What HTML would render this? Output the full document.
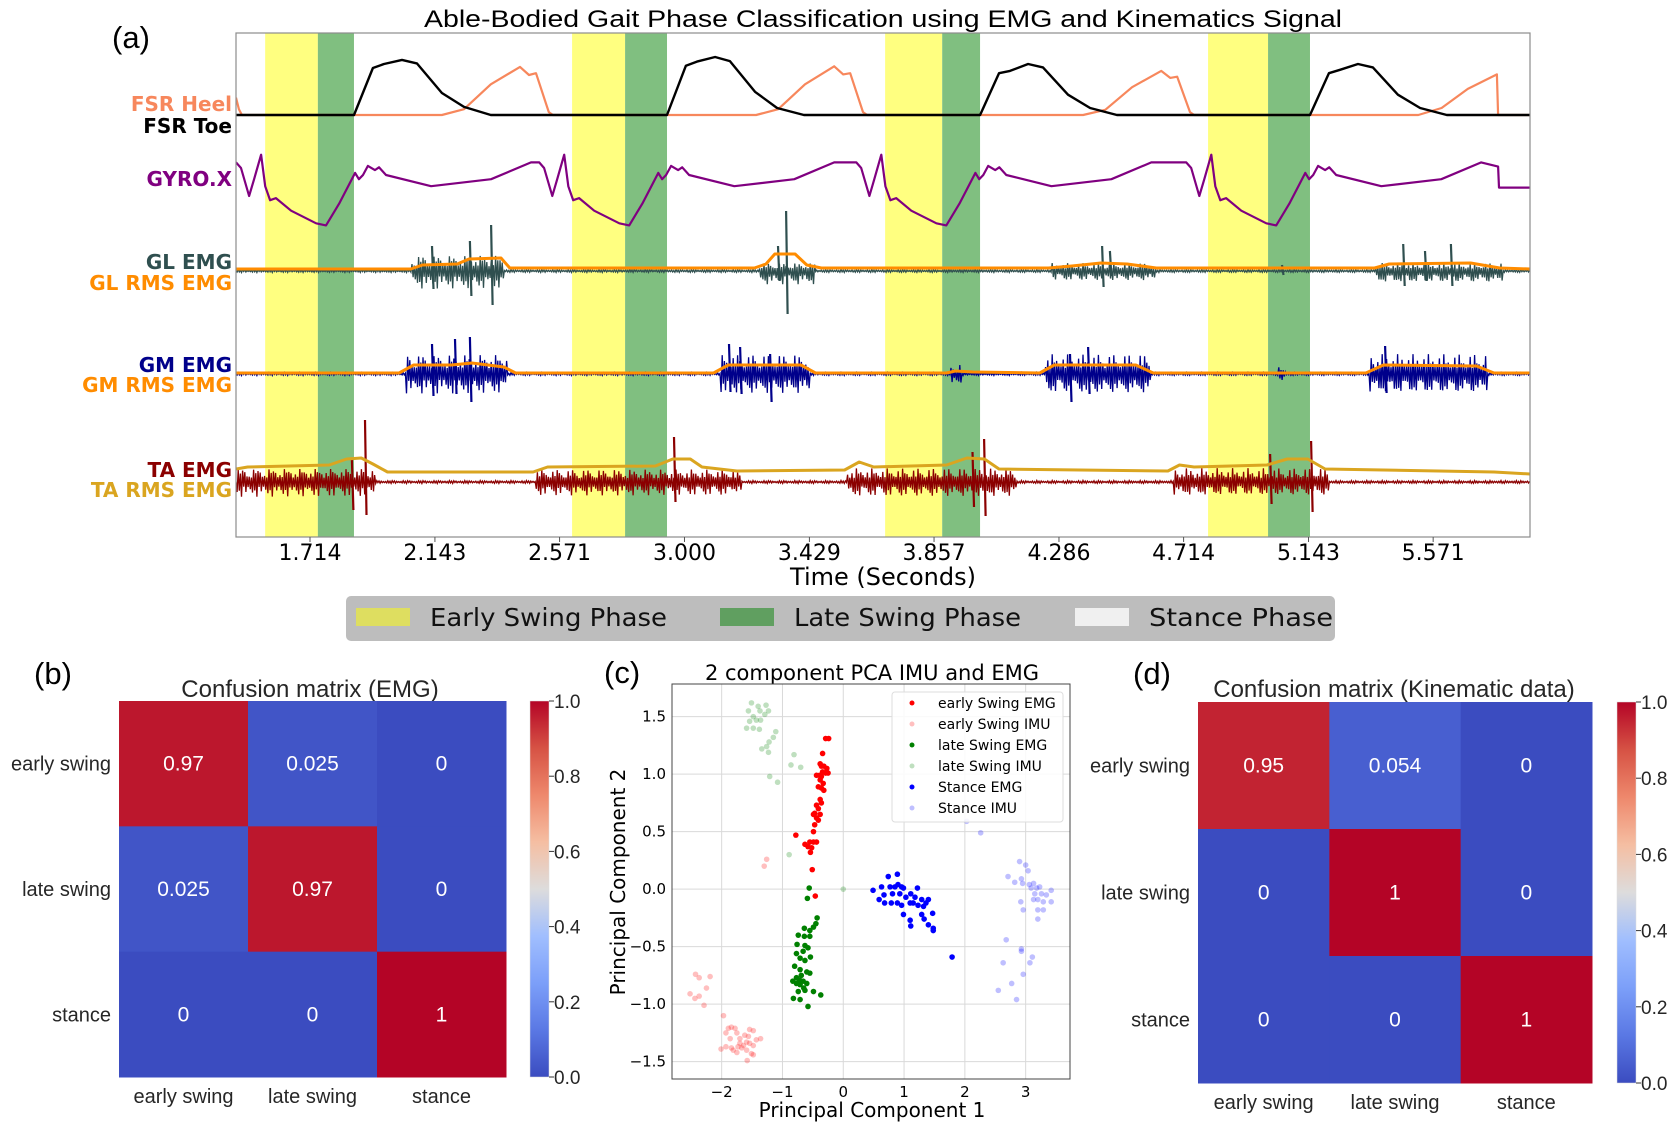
<!DOCTYPE html>
<html><head><meta charset="utf-8"><style>
html,body{margin:0;padding:0;background:#fff;}
svg{display:block;}
</style></head><body>
<svg id="fig" width="1674" height="1126" viewBox="0 0 1674 1126" xmlns="http://www.w3.org/2000/svg">
<g id="gA"></g>
<g id="gB"></g>
<g id="gC"></g>
<g id="gD"></g>
</svg>
<script>
// ---------- Panel (a) data ----------
const phaseYellowStart = [1.560, 2.614, 3.689, 4.798];
const phaseGreenStart  = [1.741, 2.796, 3.885, 5.004];
const phaseGreenEnd    = [1.865, 2.940, 4.015, 5.148];
const timeTicks = [1.714, 2.143, 2.571, 3.000, 3.429, 3.857, 4.286, 4.714, 5.143, 5.571];
const timeTickLabels = ["1.714","2.143","2.571","3.000","3.429","3.857","4.286","4.714","5.143","5.571"];
const toeT = [1.460,1.865,1.930,1.968,2.030,2.081,2.167,2.243,2.335,2.940,3.005,3.043,3.105,3.156,3.242,3.318,3.410,4.015,4.080,4.118,4.180,4.231,4.317,4.393,4.485,5.148,5.213,5.251,5.313,5.364,5.450,5.526,5.618,5.904];
const toeV = [0,0,.81,.88,.95,.89,.38,.14,0,0,.85,.92,1.0,.93,.40,.12,0,0,.72,.76,.88,.82,.35,.12,0,0,.72,.78,.88,.82,.35,.12,0,0];
const heelT = [1.460,1.470,1.480,2.167,2.243,2.335,2.435,2.466,2.490,2.534,2.548,3.246,3.322,3.414,3.514,3.545,3.569,3.613,3.627,4.369,4.445,4.537,4.637,4.668,4.692,4.736,4.750,5.520,5.600,5.690,5.790,5.794,5.904];
const heelV = [.30,.10,0,0,.1,.53,.83,.69,.72,.05,0,0,.1,.53,.84,.70,.72,.05,0,0,.09,.48,.76,.64,.66,.05,0,0,.12,.45,.70,0,0];
const gyroMinT = [1.769, 2.810, 3.899, 5.032];
const gyroOffT = [-.309,-.292,-.264,-.247,-.223,-.209,-.192,-.172,-.120,-.034,0,.045,.100,.113,.127,.144,.168,.182,.206,.361,.567,.704];
const gyroOffV = [.88,.80,.40,.64,.99,.54,.34,.37,.19,.01,-.02,.29,.73,.64,.70,.83,.77,.81,.70,.54,.64,.88];
const gyroTailT = [5.794, 5.797, 5.904];
const gyroTailV = [.82, .52, .52];
// EMG bursts
const glBurstStart = [2.061, 3.256, 4.259, 5.371];
const glBurstEnd   = [2.380, 3.448, 4.616, 5.811];
const glBurstUp    = [16, 8, 8, 8];
const glBurstDown  = [18, 14, 10, 12];
const glSpikeT   = [2.133, 2.263, 2.336, 3.321, 3.349, 4.434, 4.461, 5.468, 5.543, 5.632, 5.052];
const glSpikeUp  = [25, 30, 46, 25, 60, 25, 20, 27, 20, 27, 6];
const glSpikeDn  = [18, 25, 34, 10, 43, 16, 5, 15, 10, 15, 4];
const glRmsT = [1.46,2.06,2.10,2.22,2.26,2.37,2.40,3.24,3.28,3.31,3.38,3.42,3.47,4.25,4.33,4.43,4.52,4.62,5.37,5.42,5.70,5.80,5.904];
const glRmsV = [1,1,5,6,11,12,2,2,6,16,16,5,2,2,4,7,6,2,2,6,7,2,1];
const gmBurstStart = [2.044, 3.122, 4.238, 5.354, 3.915, 5.040];
const gmBurstEnd   = [2.391, 3.431, 4.599, 5.756, 3.950, 5.065];
const gmBurstUp    = [20, 20, 20, 20, 10, 7];
const gmBurstDown  = [20, 20, 20, 20, 12, 8];
const gmSpikeT  = [2.133, 2.212, 2.263, 3.153, 3.191, 3.294, 4.324, 4.386, 5.406];
const gmSpikeUp = [30, 35, 37, 30, 27, 20, 20, 27, 28];
const gmSpikeDn = [22, 20, 28, 18, 20, 28, 28, 20, 19];
const gmRmsT = [1.46,2.02,2.07,2.20,2.27,2.38,2.42,3.10,3.15,3.40,3.45,3.90,3.93,3.99,4.22,4.27,4.55,4.61,5.34,5.40,5.72,5.78,5.904];
const gmRmsV = [0,0,8,8,10,6,0,0,8,8,0,0,2,1,0,8,8,0,0,8,7,0,0];
const taBurstStart = [1.460, 2.490, 3.558, 4.681, 3.170];
const taBurstEnd   = [1.937, 3.191, 4.139, 5.213, 3.195];
const taBurstUp    = [14, 13, 14, 14, 10];
const taBurstDown  = [15, 14, 15, 14, 10];
const taSpikeT  = [1.858, 1.903, 2.964, 4.029, 5.011, 5.152, 3.989];
const taSpikeUp = [22, 62, 45, 43, 28, 41, 30];
const taSpikeDn = [28, 33, 20, 34, 22, 30, 25];
const taRmsT = [1.46,1.50,1.78,1.84,1.89,1.93,1.98,2.48,2.53,2.90,2.96,3.02,3.06,3.18,3.55,3.60,3.65,3.90,3.97,4.03,4.08,4.66,4.70,4.75,5.00,5.07,5.14,5.20,5.78,5.904];
const taRmsV = [8,10,12,18,19,13,5,5,10,11,18,18,10,6,7,15,10,12,19,18,8,6,12,10,12,18,18,8,5,3];

// ---------- Panel (b)/(d) data ----------
const cmLabels = ["early swing", "late swing", "stance"];
const cmEmg = [[0.97, 0.025, 0], [0.025, 0.97, 0], [0, 0, 1]];
const cmEmgText = [["0.97","0.025","0"],["0.025","0.97","0"],["0","0","1"]];
const cmKin = [[0.95, 0.054, 0], [0, 1, 0], [0, 0, 1]];
const cmKinText = [["0.95","0.054","0"],["0","1","0"],["0","0","1"]];
const cbarTicks = [0, 0.2, 0.4, 0.6, 0.8, 1.0];
const cbarTickLabels = ["0.0","0.2","0.4","0.6","0.8","1.0"];

// ---------- Panel (c) data ----------
const pcaXTicks = [-2, -1, 0, 1, 2, 3];
const pcaYTicks = [-1.5, -1.0, -0.5, 0.0, 0.5, 1.0, 1.5];
const pcaYTickLabels = ["\u22121.5","\u22121.0","\u22120.5","0.0","0.5","1.0","1.5"];
const pcaXTickLabels = ["\u22122","\u22121","0","1","2","3"];
const esEmgX = [-.24,-.29,-.34,-.38,-.36,-.32,-.27,-.34,-.39,-.29,-.25,-.44,-.36,-.38,-.33,-.41,-.36,-.32,-.38,-.36,-.44,-.41,-.47,-.38,-.49,-.44,-.41,-.47,-.49,-.78,-.63,-.55,-.49,-.44,-.58,-.52,-.54,-.51,-.46];
const esEmgY = [1.31,1.31,1.18,1.09,1.07,1.07,1.05,1.02,.99,1.01,1.01,.99,.98,.95,.92,.89,.88,.86,.78,.75,.73,.70,.66,.65,.65,.62,.60,.56,.50,.47,.39,.41,.41,.41,.37,.36,.32,.17,-.06];
const esImuX = [-2.43,-2.37,-2.19,-2.25,-2.52,-2.44,-2.37,-2.29,-1.97,-1.26,-1.30,-1.89,-1.84,-1.78,-1.93,-1.75,-1.86,-1.70,-1.62,-1.54,-1.48,-1.36,-1.56,-1.70,-1.64,-1.59,-1.54,-1.48,-1.73,-1.67,-1.81,-1.59,-1.51,-1.48,-1.93,-2.01,-1.58,-1.43,-1.84,-1.75];
const esImuY = [-.74,-.77,-.76,-.86,-.91,-.95,-.93,-1.01,-1.10,.26,.20,-1.21,-1.20,-1.21,-1.25,-1.25,-1.30,-1.30,-1.27,-1.22,-1.23,-1.30,-1.28,-1.34,-1.36,-1.33,-1.34,-1.36,-1.37,-1.38,-1.40,-1.40,-1.43,-1.44,-1.37,-1.39,-1.49,-1.31,-1.38,-1.42];
const lsEmgX = [-.56,-.59,-.43,-.45,-.49,-.55,-.64,-.74,-.64,-.55,-.76,-.63,-.58,-.66,-.77,-.54,-.71,-.63,-.80,-.71,-.60,-.55,-.69,-.77,-.72,-.66,-.83,-.77,-.71,-.60,-.74,-.63,-.49,-.37,-.82,-.71,-.58,-.65];
const lsEmgY = [.01,-.08,-.25,-.30,-.33,-.36,-.34,-.40,-.41,-.41,-.48,-.49,-.51,-.54,-.56,-.59,-.60,-.62,-.67,-.70,-.72,-.73,-.75,-.77,-.79,-.80,-.80,-.82,-.83,-.82,-.89,-.88,-.89,-.92,-.95,-.96,-1.02,-.86];
const lsImuX = [-1.51,-1.40,-1.27,-1.56,-1.48,-1.37,-1.29,-1.23,-1.43,-1.54,-1.59,-1.48,-1.38,-1.11,-1.15,-1.22,-1.34,-1.26,-1.23,-1.36,-.81,-.86,-.70,-1.21,-1.08,-.89,0.00];
const lsImuY = [1.62,1.59,1.60,1.55,1.50,1.55,1.52,1.55,1.47,1.46,1.40,1.40,1.39,1.37,1.32,1.28,1.22,1.24,1.19,1.47,1.17,1.08,1.06,.98,.93,.30,0.00];
const stEmgX = [.49,.59,.63,.67,.74,.77,.81,.85,.89,.90,.93,.96,.89,.96,1.03,1.11,1.18,1.22,1.10,1.15,1.23,1.29,1.36,1.40,1.32,.99,1.10,1.11,1.29,1.33,1.47,1.40,1.48,1.48,.68,.79,1.79,.99];
const stEmgY = [-.01,-.09,.02,-.05,.11,.02,-.04,.02,.13,.04,-.04,.02,-.12,-.14,-.07,-.04,-.07,.01,-.12,-.12,-.14,-.09,-.12,-.09,-.15,-.22,-.27,-.32,-.22,-.26,-.21,-.31,-.34,-.36,-.12,-.12,-.59,.01];
const stImuX = [2.71,2.90,3.00,3.04,2.93,2.82,2.95,3.06,3.13,3.18,3.23,3.09,3.15,3.26,3.34,3.42,3.13,3.20,3.29,3.42,2.92,2.96,3.20,3.29,3.20,2.68,2.93,2.93,3.11,3.07,2.63,2.96,2.77,2.55,2.85,2.03,2.26];
const stImuY = [.11,.24,.21,.16,.09,.06,.05,.04,.05,.01,.02,.01,-.04,-.04,-.05,-.01,-.09,-.09,-.11,-.11,-.11,-.18,-.18,-.18,-.26,-.44,-.52,-.54,-.59,-.64,-.64,-.74,-.82,-.88,-.96,.59,.49];
const pcaSeriesNames = ["early Swing EMG","early Swing IMU","late Swing EMG","late Swing IMU","Stance EMG","Stance IMU"];

// ---------- helpers ----------
const NS = "http://www.w3.org/2000/svg";
function mk(parent, tag, attrs, text) {
  const e = document.createElementNS(NS, tag);
  for (const k in attrs) e.setAttribute(k, attrs[k]);
  if (text !== undefined) e.textContent = text;
  parent.appendChild(e);
  return e;
}
const DJ = "'DejaVu Sans', 'Liberation Sans', sans-serif";
const LS = "'Liberation Sans', Arial, sans-serif";

// ---------- Panel (a) ----------
const gA = document.getElementById("gA");
const AX0 = 236, AX1 = 1530, AY0 = 33, AY1 = 537;
const tx = t => 310 + (t - 1.714) * 291.2;
const fsrY = v => 115 - v * 58;
const gyroY = v => 224 - v * 70;

let e;
e = mk(gA, "text", {x: 112, y: 48, "font-family": LS, "font-size": 31, fill: "#000"}, "(a)");


e = mk(gA, "text", {x: 424, y: 27, "font-family": LS, "font-size": 24, fill: "#000", textLength: 918, lengthAdjust: "spacingAndGlyphs"}, "Able-Bodied Gait Phase Classification using EMG and Kinematics Signal");



const defs = mk(gA, "defs", {});
const cp = mk(defs, "clipPath", {id: "clipA"});
mk(cp, "rect", {x: AX0, y: AY0, width: AX1 - AX0, height: AY1 - AY0});
const plotA = mk(gA, "g", {"clip-path": "url(#clipA)"});



for (let i = 0; i < phaseYellowStart.length; i++) {
  e = mk(plotA, "rect", {x: tx(phaseYellowStart[i]), y: AY0, width: tx(phaseGreenStart[i]) - tx(phaseYellowStart[i]), height: AY1 - AY0, fill: "#ffff80"});
  
  
  e = mk(plotA, "rect", {x: tx(phaseGreenStart[i]), y: AY0, width: tx(phaseGreenEnd[i]) - tx(phaseGreenStart[i]), height: AY1 - AY0, fill: "#80bf80"});
  
  
}

function pts(T, V, fy) { return T.map((t, i) => tx(t).toFixed(1) + "," + fy(V[i]).toFixed(1)).join(" "); }

e = mk(plotA, "polyline", {points: pts(heelT, heelV, fsrY), fill: "none", stroke: "#f7875c", "stroke-width": 2.2, "stroke-linejoin": "round"});


e = mk(plotA, "polyline", {points: pts(toeT, toeV, fsrY), fill: "none", stroke: "#000", "stroke-width": 2.4, "stroke-linejoin": "round"});



// gyro
const gT = [], gV = [];
for (let c = 0; c < gyroMinT.length; c++) {
  for (let j = 0; j < gyroOffT.length; j++) { gT.push(gyroMinT[c] + gyroOffT[j]); gV.push(gyroOffV[j]); }
}
for (let j = 0; j < gyroTailT.length; j++) { gT.push(gyroTailT[j]); gV.push(gyroTailV[j]); }
e = mk(plotA, "polyline", {points: pts(gT, gV, gyroY), fill: "none", stroke: "#800080", "stroke-width": 2.2, "stroke-linejoin": "round"});



// EMG traces
function emgPath(base, bs, be, bu, bd) {
  let d = "";
  let i = 0;
  for (let x = AX0; x <= AX1; x += 1.1, i++) {
    const t = 1.714 + (x - 310) / 291.2;
    let up = 1.5, dn = 1.5;
    for (let k = 0; k < bs.length; k++) {
      if (t >= bs[k] && t <= be[k]) { up = bu[k]; dn = bd[k]; }
    }
    const f = 0.3 + 0.7 * Math.abs(Math.sin(i * 0.9) * Math.sin(i * 0.23 + 0.5));
    const y = (i % 2 === 0) ? base - up * f : base + dn * f;
    d += (i === 0 ? "M" : "L") + x.toFixed(1) + "," + y.toFixed(1);
  }
  return d;
}
function spikePath(base, T, U, D) {
  let d = "";
  for (let k = 0; k < T.length; k++) {
    const x = tx(T[k]);
    d += "M" + x.toFixed(1) + "," + (base - U[k]).toFixed(1) + "L" + (x + 1.5).toFixed(1) + "," + (base + D[k]).toFixed(1);
  }
  return d;
}
function emg(name, base, color, bs, be, bu, bd, sT, sU, sD, rT, rV, rColor, rOff) {
  e = mk(plotA, "path", {d: emgPath(base, bs, be, bu, bd), fill: "none", stroke: color, "stroke-width": 1.3});
  
  
  e = mk(plotA, "path", {d: spikePath(base, sT, sU, sD), fill: "none", stroke: color, "stroke-width": 2.2});
  
  
  e = mk(plotA, "polyline", {points: pts(rT, rV, v => base - rOff - v), fill: "none", stroke: rColor, "stroke-width": 3, "stroke-linejoin": "round"});
  
  
}
emg("gl", 271, "#2f4f4f", glBurstStart, glBurstEnd, glBurstUp, glBurstDown, glSpikeT, glSpikeUp, glSpikeDn, glRmsT, glRmsV, "#ff8c00", 1);
emg("gm", 374, "#00008b", gmBurstStart, gmBurstEnd, gmBurstUp, gmBurstDown, gmSpikeT, gmSpikeUp, gmSpikeDn, gmRmsT, gmRmsV, "#ff8c00", 1);
emg("ta", 482, "#8b0000", taBurstStart, taBurstEnd, taBurstUp, taBurstDown, taSpikeT, taSpikeUp, taSpikeDn, taRmsT, taRmsV, "#daa520", 5);

e = mk(gA, "rect", {x: AX0, y: AY0, width: AX1 - AX0, height: AY1 - AY0, fill: "none", stroke: "#8c8c8c", "stroke-width": 1.2});



// channel labels
const chanLabels = [["FSR Heel", 111, "#f7875c"], ["FSR Toe", 133, "#000"], ["GYRO.X", 186, "#800080"], ["GL EMG", 269, "#2f4f4f"], ["GL RMS EMG", 290, "#ff8c00"], ["GM EMG", 372, "#00008b"], ["GM RMS EMG", 392, "#ff8c00"], ["TA EMG", 477, "#8b0000"], ["TA RMS EMG", 497, "#daa520"]];
chanLabels.forEach(c => {
  e = mk(gA, "text", {x: 232, y: c[1], "text-anchor": "end", "font-family": DJ, "font-size": 20, "font-weight": "bold", fill: c[2]}, c[0]);
  
  
});

// ticks
timeTicks.forEach((t, i) => {
  e = mk(gA, "line", {x1: tx(t), x2: tx(t), y1: AY1, y2: AY1 + 5, stroke: "#555", "stroke-width": 1});
  
  
  e = mk(gA, "text", {x: tx(t), y: 560, "text-anchor": "middle", "font-family": DJ, "font-size": 22, fill: "#000"}, timeTickLabels[i]);
  
  
});
e = mk(gA, "text", {x: 883, y: 585, "text-anchor": "middle", "font-family": DJ, "font-size": 24, fill: "#000"}, "Time (Seconds)");



// legend
e = mk(gA, "rect", {x: 346, y: 596, width: 989, height: 45, rx: 5, fill: "#bdbdbd"});


const legItems = [["#dede60", 356, "Early Swing Phase", 430, 237], ["#609f60", 720, "Late Swing Phase", 794, 227], ["#f0f0f0", 1075, "Stance Phase", 1149, 184]];
legItems.forEach(l => {
  e = mk(gA, "rect", {x: l[1], y: 608, width: 54, height: 18, fill: l[0]});
  
  
  e = mk(gA, "text", {x: l[3], y: 626, "font-family": DJ, "font-size": 25, fill: "#111", textLength: l[4], lengthAdjust: "spacingAndGlyphs"}, l[2]);
  
  
});

// ---------- coolwarm ----------
const cwStops = [[0,[59,76,192]],[0.125,[90,120,228]],[0.25,[124,159,249]],[0.375,[160,190,254]],[0.5,[221,220,220]],[0.625,[245,190,162]],[0.75,[238,136,108]],[0.875,[214,82,68]],[1,[180,4,38]]];
function cw(v) {
  for (let i = 0; i < cwStops.length - 1; i++) {
    const a = cwStops[i], b = cwStops[i + 1];
    if (v <= b[0]) {
      const f = (v - a[0]) / (b[0] - a[0]);
      const c = a[1].map((x, k) => Math.round(x + (b[1][k] - x) * f));
      return "rgb(" + c.join(",") + ")";
    }
  }
  return "rgb(180,4,38)";
}

function confusion(g, id, label, labelX, title, titleX, M, MT, x0, x1, y0, y1, cbx, name) {
  e = mk(g, "text", {x: labelX, y: 684, "font-family": LS, "font-size": 31, fill: "#000"}, label);
  
  
  e = mk(g, "text", {x: titleX, y: 697, "text-anchor": "middle", "font-family": LS, "font-size": 24, fill: "#262626"}, title);
  
  
  const cw3 = (x1 - x0) / 3, ch3 = (y1 - y0) / 3;
  for (let r = 0; r < 3; r++) {
    for (let c = 0; c < 3; c++) {
      e = mk(g, "rect", {x: x0 + c * cw3, y: y0 + r * ch3, width: cw3 + 0.5, height: ch3 + 0.5, fill: cw(M[r][c])});
      
      
      e = mk(g, "text", {x: x0 + (c + 0.5) * cw3, y: y0 + (r + 0.5) * ch3 + 7, "text-anchor": "middle", "font-family": LS, "font-size": 21, fill: "#fff"}, MT[r][c]);
      
      
    }
    e = mk(g, "text", {x: x0 - 8, y: y0 + (r + 0.5) * ch3 + 7, "text-anchor": "end", "font-family": LS, "font-size": 20, fill: "#262626"}, cmLabels[r]);
    
    
    e = mk(g, "text", {x: x0 + (r + 0.5) * cw3, y: y1 + 26, "text-anchor": "middle", "font-family": LS, "font-size": 20, fill: "#262626"}, cmLabels[r]);
    
    
  }
  const gr = mk(defs, "linearGradient", {id: "grad" + id, x1: 0, y1: 1, x2: 0, y2: 0});
  cwStops.forEach(s => mk(gr, "stop", {offset: s[0], "stop-color": cw(s[0])}));
  e = mk(g, "rect", {x: cbx, y: y0, width: 19, height: y1 - y0, fill: "url(#grad" + id + ")", stroke: "#ddd", "stroke-width": 0.5});
  
  
  cbarTicks.forEach((v, i) => {
    const y = y1 - v * (y1 - y0);
    e = mk(g, "line", {x1: cbx + 19, x2: cbx + 24, y1: y, y2: y, stroke: "#333", "stroke-width": 1});
    
    
    e = mk(g, "text", {x: cbx + 24, y: y + 7, "font-family": LS, "font-size": 19, fill: "#262626"}, cbarTickLabels[i]);
    
    
  });
}
confusion(document.getElementById("gB"), "B", "(b)", 34, "Confusion matrix (EMG)", 310, cmEmg, cmEmgText, 119, 506, 701, 1077, 530, "cm-emg");
confusion(document.getElementById("gD"), "D", "(d)", 1133, "Confusion matrix (Kinematic data)", 1394, cmKin, cmKinText, 1198, 1592, 702, 1083, 1617, "cm-kin");

// ---------- Panel (c) ----------
const gC = document.getElementById("gC");
const CX0 = 672, CX1 = 1070, CY0 = 684, CY1 = 1079;
const px = v => 730 / 3 + 600 + v * 60.8 - 0.07;
const py = v => 640 + 747.5 / 3 - v * 115;
e = mk(gC, "text", {x: 604, y: 683, "font-family": LS, "font-size": 31, fill: "#000"}, "(c)");


e = mk(gC, "text", {x: 872, y: 680, "text-anchor": "middle", "font-family": DJ, "font-size": 21, fill: "#000"}, "2 component PCA IMU and EMG");


pcaXTicks.forEach((v, i) => {
  e = mk(gC, "line", {x1: px(v), x2: px(v), y1: CY0, y2: CY1, stroke: "#d9d9d9", "stroke-width": 1});
  
  
  e = mk(gC, "text", {x: px(v), y: 1097, "text-anchor": "middle", "font-family": DJ, "font-size": 15, fill: "#000"}, pcaXTickLabels[i]);
  
  
});
pcaYTicks.forEach((v, i) => {
  e = mk(gC, "line", {x1: CX0, x2: CX1, y1: py(v), y2: py(v), stroke: "#d9d9d9", "stroke-width": 1});
  
  
  e = mk(gC, "text", {x: 666, y: py(v) + 5, "text-anchor": "end", "font-family": DJ, "font-size": 15, fill: "#000"}, pcaYTickLabels[i]);
  
  
});
e = mk(gC, "rect", {x: CX0, y: CY0, width: CX1 - CX0, height: CY1 - CY0, fill: "none", stroke: "#444", "stroke-width": 1});


e = mk(gC, "text", {x: 872, y: 1117, "text-anchor": "middle", "font-family": DJ, "font-size": 20, fill: "#000"}, "Principal Component 1");


e = mk(gC, "text", {x: 625, y: 882, "text-anchor": "middle", "font-family": DJ, "font-size": 20, fill: "#000", transform: "rotate(-90 625 882)"}, "Principal Component 2");



const series = [[esImuX, esImuY, "#ff0000", 0.25], [lsImuX, lsImuY, "#008000", 0.25], [stImuX, stImuY, "#0000ff", 0.25], [esEmgX, esEmgY, "#ff0000", 1], [lsEmgX, lsEmgY, "#008000", 1], [stEmgX, stEmgY, "#0000ff", 1]];
series.forEach(s => {
  for (let i = 0; i < s[0].length; i++) {
    e = mk(gC, "circle", {cx: px(s[0][i]), cy: py(s[1][i]), r: 2.8, fill: s[2], "fill-opacity": s[3]});
    
    
  }
});
e = mk(gC, "rect", {x: 892, y: 692, width: 171, height: 130, rx: 3, fill: "#fff", "fill-opacity": 0.85, stroke: "#ddd", "stroke-width": 1});


const legCol = [["#ff0000", 1], ["#ff0000", 0.25], ["#008000", 1], ["#008000", 0.25], ["#0000ff", 1], ["#0000ff", 0.25]];
pcaSeriesNames.forEach((n, i) => {
  const y = 703 + i * 21;
  e = mk(gC, "circle", {cx: 912, cy: y, r: 2.5, fill: legCol[i][0], "fill-opacity": legCol[i][1]});
  
  
  e = mk(gC, "text", {x: 938, y: y + 5, "font-family": DJ, "font-size": 14, fill: "#000"}, n);
  
  
});
</script>
</body></html>
